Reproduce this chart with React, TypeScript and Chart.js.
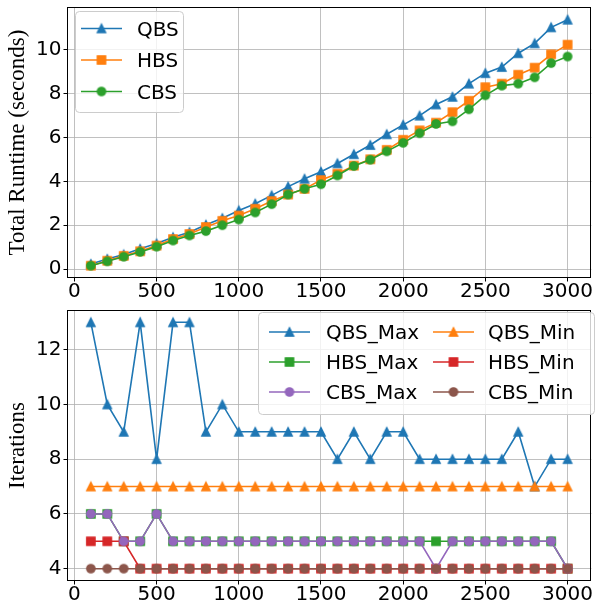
import React, { useEffect, useRef } from 'react';
import { Chart, registerables } from 'chart.js';

Chart.register(...registerables);

// ---------------- data ----------------
const nodeCounts = [100, 200, 300, 400, 500, 600, 700, 800, 900, 1000, 1100, 1200, 1300, 1400, 1500, 1600, 1700, 1800, 1900, 2000, 2100, 2200, 2300, 2400, 2500, 2600, 2700, 2800, 2900, 3000];

const qbsRuntime = [0.23, 0.46, 0.66, 0.92, 1.16, 1.45, 1.68, 2.02, 2.32, 2.67, 2.98, 3.36, 3.76, 4.12, 4.44, 4.82, 5.24, 5.66, 6.15, 6.58, 7.0, 7.51, 7.86, 8.46, 8.94, 9.22, 9.85, 10.3, 11.03, 11.38];
const hbsRuntime = [0.15, 0.38, 0.6, 0.81, 1.07, 1.37, 1.6, 1.92, 2.2, 2.44, 2.75, 3.1, 3.4, 3.66, 4.06, 4.35, 4.72, 5.01, 5.44, 5.9, 6.33, 6.68, 7.16, 7.68, 8.3, 8.46, 8.87, 9.19, 9.8, 10.24];
const cbsRuntime = [0.15, 0.35, 0.56, 0.78, 1.02, 1.3, 1.53, 1.73, 2.0, 2.26, 2.58, 2.96, 3.4, 3.66, 3.87, 4.27, 4.7, 4.99, 5.37, 5.76, 6.2, 6.62, 6.74, 7.29, 7.93, 8.37, 8.46, 8.75, 9.4, 9.7];

const qbsMax = [13, 10, 9, 13, 8, 13, 13, 9, 10, 9, 9, 9, 9, 9, 9, 8, 9, 8, 9, 9, 8, 8, 8, 8, 8, 8, 9, 7, 8, 8];
const qbsMin = [7, 7, 7, 7, 7, 7, 7, 7, 7, 7, 7, 7, 7, 7, 7, 7, 7, 7, 7, 7, 7, 7, 7, 7, 7, 7, 7, 7, 7, 7];
const hbsMax = [6, 6, 5, 5, 6, 5, 5, 5, 5, 5, 5, 5, 5, 5, 5, 5, 5, 5, 5, 5, 5, 5, 5, 5, 5, 5, 5, 5, 5, 4];
const hbsMin = [5, 5, 5, 4, 4, 4, 4, 4, 4, 4, 4, 4, 4, 4, 4, 4, 4, 4, 4, 4, 4, 4, 4, 4, 4, 4, 4, 4, 4, 4];
const cbsMax = [6, 6, 5, 5, 6, 5, 5, 5, 5, 5, 5, 5, 5, 5, 5, 5, 5, 5, 5, 5, 5, 4, 5, 5, 5, 5, 5, 5, 5, 4];
const cbsMin = [4, 4, 4, 4, 4, 4, 4, 4, 4, 4, 4, 4, 4, 4, 4, 4, 4, 4, 4, 4, 4, 4, 4, 4, 4, 4, 4, 4, 4, 4];

const xTickValues = [0, 500, 1000, 1500, 2000, 2500, 3000];
const runtimeTickValues = [0, 2, 4, 6, 8, 10];
const iterTickValues = [4, 6, 8, 10, 12];

// ---------------- styling ----------------
const C0 = '#1f77b4';
const C1 = '#ff7f0e';
const C2 = '#2ca02c';
const C3 = '#d62728';
const C4 = '#9467bd';
const C5 = '#8c564b';

const TICK_FONT = 20;
const LEGEND_FONT = 20;
const SANS = "'DejaVu Sans', sans-serif";
const SERIF = "'Liberation Serif', 'Times New Roman', serif";

type Shape = 'tri' | 'sq' | 'circ';

function makeMarker(shape: Shape, color: string): HTMLCanvasElement {
  const size = 8.3;
  const ew = 1.4;
  const S = 16;
  const c = document.createElement('canvas');
  c.width = S;
  c.height = S;
  const ctx = c.getContext('2d')!;
  const cx = S / 2;
  const cy = S / 2;
  const h = size / 2;
  ctx.beginPath();
  if (shape === 'tri') {
    ctx.moveTo(cx, cy - h);
    ctx.lineTo(cx + h, cy + h);
    ctx.lineTo(cx - h, cy + h);
    ctx.closePath();
  } else if (shape === 'sq') {
    ctx.rect(cx - h, cy - h, size, size);
  } else {
    ctx.arc(cx, cy, h, 0, Math.PI * 2);
  }
  ctx.fillStyle = color;
  ctx.fill();
  ctx.lineWidth = ew;
  ctx.strokeStyle = color;
  ctx.lineJoin = 'miter';
  ctx.stroke();
  return c;
}

interface SeriesDef {
  label: string;
  values: number[];
  color: string;
  shape: Shape;
}

interface LegendItemPos {
  lineStart: number;
  textX: number;
  y: number;
}

interface LegendDef {
  box: { x: number; y: number; w: number; h: number };
  items: LegendItemPos[];
}

const HANDLE_LEN = 41;

function makeConfig(
  series: SeriesDef[],
  yMin: number,
  yMax: number,
  yTicks: number[],
  yTitle: string,
  padTop: number,
  xAxisHeight: number,
  legend: LegendDef
): any {
  const markers = series.map((s) => makeMarker(s.shape, s.color));
  const datasets = series.map((s, i) => ({
    label: s.label,
    data: nodeCounts.map((x, k) => ({ x, y: s.values[k] })),
    borderColor: s.color,
    backgroundColor: s.color,
    borderWidth: 1.6,
    pointStyle: markers[i],
    pointRadius: 4,
    pointHoverRadius: 4,
    tension: 0,
    order: series.length - i,
  }));

  const overlayPlugin = {
    id: 'overlay' + yTitle.length,
    afterDraw(chart: any) {
      const ctx: CanvasRenderingContext2D = chart.ctx;
      const a = chart.chartArea;
      ctx.save();
      // frame (spines)
      ctx.strokeStyle = '#000';
      ctx.lineWidth = 1;
      ctx.strokeRect(Math.round(a.left) + 0.5, Math.round(a.top) + 0.5, Math.round(a.right - a.left) - 1, Math.round(a.bottom - a.top) - 1);

      // legend box
      const b = legend.box;
      ctx.beginPath();
      if ((ctx as any).roundRect) {
        (ctx as any).roundRect(b.x + 0.5, b.y + 0.5, b.w, b.h, 4);
      } else {
        ctx.rect(b.x + 0.5, b.y + 0.5, b.w, b.h);
      }
      ctx.fillStyle = 'rgba(255,255,255,0.8)';
      ctx.fill();
      ctx.strokeStyle = '#cccccc';
      ctx.lineWidth = 1;
      ctx.stroke();

      // legend entries
      ctx.font = `${LEGEND_FONT}px ${SANS}`;
      ctx.textAlign = 'left';
      ctx.textBaseline = 'alphabetic';
      series.forEach((s, i) => {
        const it = legend.items[i];
        ctx.beginPath();
        ctx.moveTo(it.lineStart, it.y);
        ctx.lineTo(it.lineStart + HANDLE_LEN, it.y);
        ctx.strokeStyle = s.color;
        ctx.lineWidth = 1.6;
        ctx.stroke();
        const m = markers[i];
        ctx.drawImage(m, it.lineStart + HANDLE_LEN / 2 - m.width / 2, it.y - m.height / 2);
        ctx.fillStyle = '#000';
        ctx.fillText(s.label, it.textX, it.y + 0.365 * LEGEND_FONT);
      });
      ctx.restore();
    },
  };

  return {
    type: 'line',
    data: { datasets },
    options: {
      animation: false,
      responsive: false,
      devicePixelRatio: 1,
      events: [],
      layout: { padding: { left: 0, right: 2, top: padTop, bottom: 0 } },
      plugins: {
        legend: { display: false },
        tooltip: { enabled: false },
        title: { display: false },
      },
      scales: {
        x: {
          type: 'linear',
          min: -45,
          max: 3145,
          afterBuildTicks: (scale: any) => {
            scale.ticks = xTickValues.map((v) => ({ value: v }));
          },
          afterFit: (scale: any) => {
            scale.height = xAxisHeight;
            scale.paddingLeft = 0;
            scale.paddingRight = 0;
          },
          grid: {
            color: '#b0b0b0',
            lineWidth: 0.8,
            tickColor: '#000',
            tickLength: 3.5,
            tickWidth: 1,
          },
          border: { display: false },
          ticks: {
            autoSkip: false,
            maxRotation: 0,
            minRotation: 0,
            padding: 0,
            color: '#000',
            font: { family: SANS, size: TICK_FONT, lineHeight: 1 },
            callback: (v: any) => String(v),
          },
        },
        y: {
          type: 'linear',
          min: yMin,
          max: yMax,
          afterBuildTicks: (scale: any) => {
            scale.ticks = yTicks.map((v) => ({ value: v }));
          },
          afterFit: (scale: any) => {
            scale.width = 67;
            scale.paddingTop = 0;
            scale.paddingBottom = 0;
          },
          grid: {
            color: '#b0b0b0',
            lineWidth: 0.8,
            tickColor: '#000',
            tickLength: 3.5,
            tickWidth: 1,
          },
          border: { display: false },
          ticks: {
            autoSkip: false,
            padding: 2,
            color: '#000',
            font: { family: SANS, size: TICK_FONT, lineHeight: 1 },
            callback: (v: any) => String(v),
          },
          title: {
            display: true,
            text: yTitle,
            color: '#000',
            font: { family: SERIF, size: 23 },
            padding: { top: 4, bottom: 0 },
          },
        },
      },
    },
    plugins: [overlayPlugin],
  };
}

const topSeries: SeriesDef[] = [
  { label: 'QBS', values: qbsRuntime, color: C0, shape: 'tri' },
  { label: 'HBS', values: hbsRuntime, color: C1, shape: 'sq' },
  { label: 'CBS', values: cbsRuntime, color: C2, shape: 'circ' },
];

const bottomSeries: SeriesDef[] = [
  { label: 'QBS_Max', values: qbsMax, color: C0, shape: 'tri' },
  { label: 'QBS_Min', values: qbsMin, color: C1, shape: 'tri' },
  { label: 'HBS_Max', values: hbsMax, color: C2, shape: 'sq' },
  { label: 'HBS_Min', values: hbsMin, color: C3, shape: 'sq' },
  { label: 'CBS_Max', values: cbsMax, color: C4, shape: 'circ' },
  { label: 'CBS_Min', values: cbsMin, color: C5, shape: 'circ' },
];

const topLegend: LegendDef = {
  box: { x: 75, y: 11, w: 108, h: 101 },
  items: [
    { lineStart: 81, textX: 137, y: 28.5 },
    { lineStart: 81, textX: 137, y: 60 },
    { lineStart: 81, textX: 137, y: 91.5 },
  ],
};

// bottom canvas starts at page y = 300
const B0 = 300;
const bottomLegend: LegendDef = {
  box: { x: 258, y: 312 - B0, w: 336, h: 102 },
  items: [
    { lineStart: 269, textX: 326, y: 332 - B0 },
    { lineStart: 433, textX: 488, y: 332 - B0 },
    { lineStart: 269, textX: 326, y: 362 - B0 },
    { lineStart: 433, textX: 488, y: 362 - B0 },
    { lineStart: 269, textX: 326, y: 392 - B0 },
    { lineStart: 433, textX: 488, y: 392 - B0 },
  ],
};

export default function App() {
  const topRef = useRef<HTMLCanvasElement>(null);
  const bottomRef = useRef<HTMLCanvasElement>(null);

  useEffect(() => {
    const c1 = new Chart(
      topRef.current!,
      makeConfig(topSeries, -0.41, 11.96, runtimeTickValues, 'Total Runtime (seconds)', 7, 22, topLegend)
    );
    const c2 = new Chart(
      bottomRef.current!,
      makeConfig(bottomSeries, 3.55, 13.45, iterTickValues, 'Iterations', 10, 24, bottomLegend)
    );
    return () => {
      c1.destroy();
      c2.destroy();
    };
  }, []);

  return (
    <div style={{ position: 'absolute', left: 0, top: 0, width: 597, height: 605, background: '#fff' }}>
      <canvas
        ref={topRef}
        width={597}
        height={300}
        style={{ position: 'absolute', left: 0, top: 0, width: 597, height: 300 }}
      />
      <canvas
        ref={bottomRef}
        width={597}
        height={305}
        style={{ position: 'absolute', left: 0, top: B0, width: 597, height: 305 }}
      />
    </div>
  );
}
